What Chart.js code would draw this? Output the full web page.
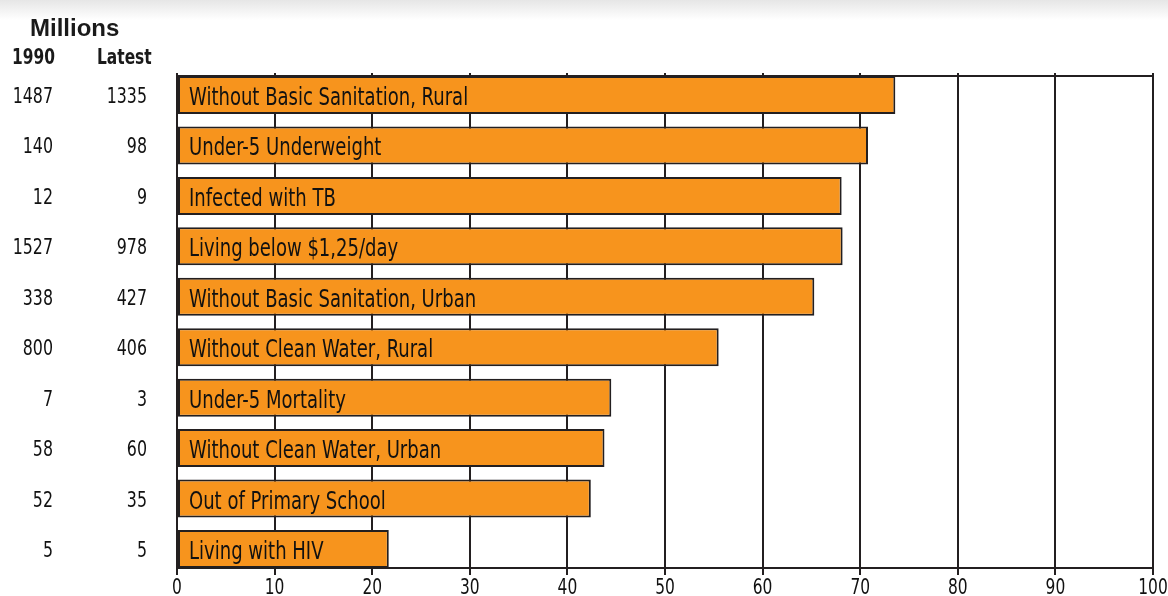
<!DOCTYPE html>
<html>
<head>
    <title>Millions - 1990 vs Latest</title>
    <meta charset="utf-8">
    <style>
        body {
            margin: 0;
            background: linear-gradient(#e6e6e6, #ffffff 20px) no-repeat;
            background-color: #fff;
        }

        .wrap {
            position: relative;
            width: 1168px;
            height: 596px;
        }

        .head {
            position: absolute;
            color: #1a1a1a;
            line-height: 1;
            white-space: nowrap;
            transform-origin: left top;
        }
        .millions {
            left: 30px;
            top: 14px;
            font: bold 24px "Liberation Sans", Arial, sans-serif;
        }
        .col {
            top: 44px;
            font: bold 22px "DejaVu Sans Condensed", sans-serif;
            transform: scaleX(0.78);
        }
    </style>
</head>
<body>
    <div class="wrap">
        <div class="head millions">Millions</div>
        <div class="head col" style="left: 12px;">1990</div>
        <div class="head col" style="left: 97px;">Latest</div>
        <canvas id="chart"></canvas>
    </div>

    <script src="https://cdn.jsdelivr.net/npm/chart.js"></script>
    <script>
        // Data
        const categories = [
            "Without Basic Sanitation, Rural",
            "Under-5 Underweight",
            "Infected with TB",
            "Living below $1,25/day",
            "Without Basic Sanitation, Urban",
            "Without Clean Water, Rural",
            "Under-5 Mortality",
            "Without Clean Water, Urban",
            "Out of Primary School",
            "Living with HIV"
        ];
        const millions1990 = [1487, 140, 12, 1527, 338, 800, 7, 58, 52, 5];
        const millionsLatest = [1335, 98, 9, 978, 427, 406, 3, 60, 35, 5];
        const barValues = [73.6, 70.8, 68.1, 68.2, 65.3, 55.5, 44.5, 43.8, 42.4, 21.7];
        const xTicks = [0, 10, 20, 30, 40, 50, 60, 70, 80, 90, 100];

        const ink = "#231f20";
        const orange = "#f7941d";
        const condensed = "'DejaVu Sans Condensed', 'DejaVu Sans', sans-serif";

        // bars sit flush with the top and bottom of the frame
        const yMin = -0.377;
        const yMax = categories.length - 1 + 0.377;

        // no condensed face is installed, so squeeze the text horizontally
        function squeezedText(ctx, text, x, y, size, align, sx) {
            ctx.save();
            ctx.font = size + "px " + condensed;
            ctx.fillStyle = "#111";
            ctx.textAlign = align;
            ctx.textBaseline = "alphabetic";
            ctx.translate(x, y);
            ctx.scale(sx, 1);
            ctx.fillText(text, 0, 0);
            ctx.restore();
        }

        // outer frame of the plot
        const framePlugin = {
            id: "frame",
            beforeDatasetsDraw(chart) {
                const { ctx, chartArea: a } = chart;
                ctx.save();
                ctx.strokeStyle = ink;
                ctx.lineWidth = 2;
                ctx.strokeRect(a.left, a.top, a.right - a.left, a.bottom - a.top);
                ctx.restore();
            }
        };

        // names inside bars, the two value columns and the x tick labels
        const textPlugin = {
            id: "texts",
            afterDatasetsDraw(chart) {
                const { ctx } = chart;
                const meta = chart.getDatasetMeta(0);
                const yScale = chart.scales.y;
                const xScale = chart.scales.x;

                meta.data.forEach((bar, i) => {
                    squeezedText(ctx, categories[i], bar.base + 11, bar.y + 10, 24, "left", 0.835);
                });

                categories.forEach((_, i) => {
                    const py = yScale.getPixelForValue(i) + 8;
                    squeezedText(ctx, String(millions1990[i]), 53, py, 22, "right", 0.8);
                    squeezedText(ctx, String(millionsLatest[i]), 147, py, 22, "right", 0.8);
                });

                xTicks.forEach((v) => {
                    squeezedText(ctx, String(v), xScale.getPixelForValue(v), chart.chartArea.bottom + 26, 22, "center", 0.78);
                });
            }
        };

        const ctx = document.getElementById("chart").getContext("2d");
        new Chart(ctx, {
            type: "bar",
            data: {
                datasets: [{
                    data: barValues.map((v, i) => ({ x: v, y: i })),
                    backgroundColor: orange,
                    borderColor: ink,
                    borderWidth: 2,
                    borderSkipped: false,
                    barPercentage: 0.753,
                    categoryPercentage: 1.0
                }]
            },
            options: {
                indexAxis: "y",
                responsive: true,
                maintainAspectRatio: false,
                animation: false,
                layout: { padding: { top: 73, right: 15, left: 0, bottom: 0 } },
                plugins: {
                    legend: { display: false },
                    tooltip: { enabled: false }
                },
                scales: {
                    x: {
                        type: "linear",
                        position: "bottom",
                        min: 0,
                        max: 100,
                        afterBuildTicks: (s) => { s.ticks = xTicks.map(v => ({ value: v })); },
                        afterFit: (s) => { s.height = 28; s.paddingLeft = 0; s.paddingRight = 0; },
                        grid: { color: ink, lineWidth: 2, tickLength: 7 },
                        border: { display: false },
                        ticks: { display: false }
                    },
                    xTop: {
                        type: "linear",
                        position: "top",
                        min: 0,
                        max: 100,
                        afterBuildTicks: (s) => { s.ticks = xTicks.map(v => ({ value: v })); },
                        afterFit: (s) => { s.height = 3; },
                        grid: { color: ink, lineWidth: 2, tickLength: 3, drawOnChartArea: false },
                        border: { display: false },
                        ticks: { display: false }
                    },
                    y: {
                        type: "linear",
                        position: "left",
                        reverse: true,
                        offset: false,
                        min: yMin,
                        max: yMax,
                        afterBuildTicks: (s) => { s.ticks = categories.map((_, i) => ({ value: i })); },
                        afterFit: (s) => { s.width = 177; s.paddingTop = 0; s.paddingBottom = 0; },
                        grid: { display: false, drawTicks: false },
                        border: { display: false },
                        ticks: { display: false }
                    }
                }
            },
            plugins: [framePlugin, textPlugin]
        });
    </script>
</body>
</html>
